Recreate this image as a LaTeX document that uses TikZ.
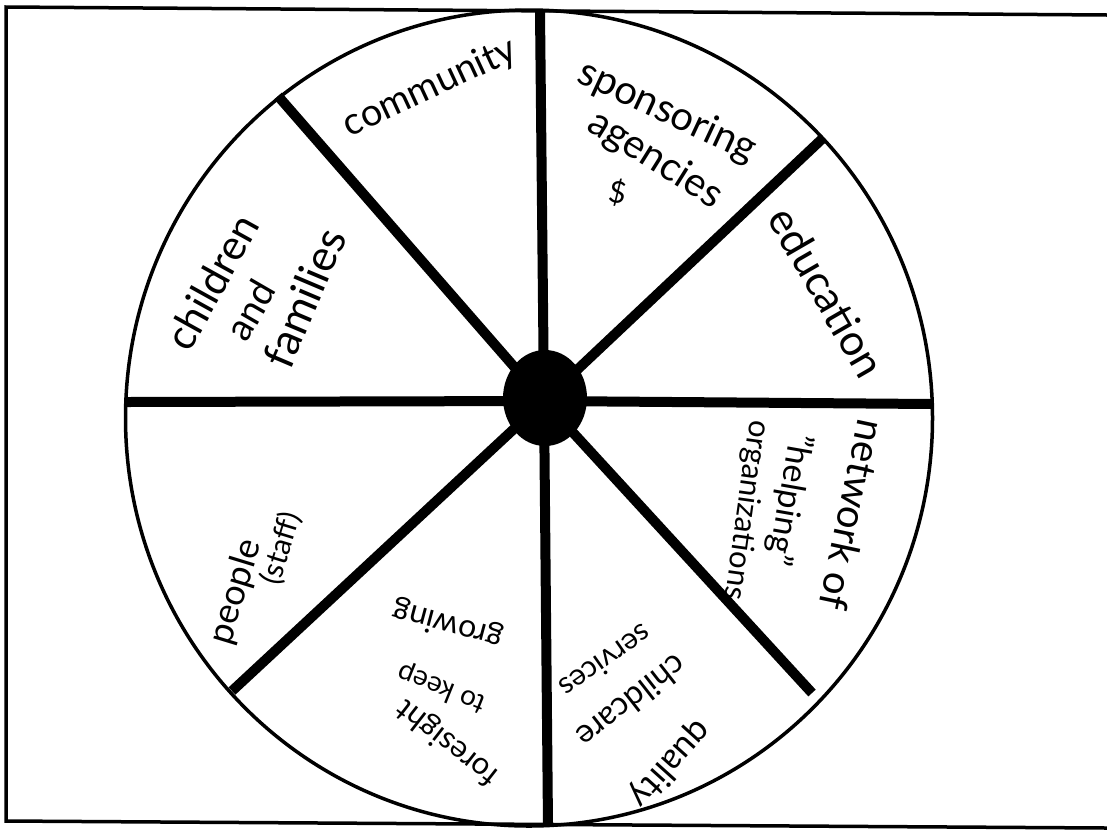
\documentclass[tikz,border=0pt]{standalone}
\usepackage{fontspec}
\setmainfont{Lato}
\begin{document}
\begin{tikzpicture}[x=1pt,y=-1pt,
  frame/.style={line width=3.5pt},
  rim/.style={line width=3.5pt},
  spoke/.style={line width=10pt},
  hw/.style={inner sep=0pt},
  fs/.style={font=\fontsize{#1}{#1}\selectfont}]
\useasboundingbox (0,0) rectangle (1107,831);
\fill[white] (0,0) rectangle (1107,831);
% frame
\coordinate (fTR) at (1107,15);
\coordinate (fTL) at (6,7);
\coordinate (fBL) at (6,821);
\coordinate (fBR) at (1107,828);
\draw[frame] (fTR) -- (fTL) -- (fBL) -- (fBR);
% rim
\coordinate (C) at (529,418);
\draw[rim] (C) ellipse [x radius=403.5, y radius=408];
% spokes
\coordinate (hub) at (544,401);
\coordinate (sT) at (540,12);
\coordinate (sTR) at (822,139);
\coordinate (sR) at (932,404);
\coordinate (sBR) at (812,693);
\coordinate (sB) at (548,826);
\coordinate (sBL) at (232,691);
\coordinate (sL) at (126,402);
\coordinate (sTL) at (278,96);
\foreach \s in {sT,sTR,sR,sBR,sB,sBL,sL,sTL}
  \draw[spoke] (hub) -- (\s);
\fill (545,398) ellipse [x radius=42, y radius=48];
% labels
\node[hw,fs=38,rotate=25] (community) at (430,88) {community};
\node[hw,fs=40,rotate=-25] (spons) at (667,112) {sponsoring};
\node[hw,fs=40,rotate=-32] (agenc) at (655,160) {agencies};
\node[hw,fs=30,rotate=-10] (dollar) at (618,193) {\$};
\node[hw,fs=43,rotate=-60] (educ) at (827,292) {education};
\node[hw,fs=42,rotate=61] (child) at (212,282) {children};
\node[hw,fs=38,rotate=60] (and) at (250,310) {and};
\node[hw,fs=44,rotate=67] (fam) at (304,298) {families};
\node[hw,fs=40,rotate=-102] (netw) at (853,515) {network of};
\node[hw,fs=34,rotate=-100] (help) at (789,500) {"helping"};
\node[hw,fs=31,rotate=-98] (org) at (746,510) {organizations};
\node[hw,fs=36,rotate=73] (people) at (236,592) {people};
\node[hw,fs=30,rotate=73] (staff) at (281,548) {(staff)};
\node[hw,fs=31,rotate=142] (fores) at (448,742) {foresight};
\node[hw,fs=28,rotate=158] (tokeep) at (442,688) {to keep};
\node[hw,fs=32,rotate=165] (grow) at (448,624) {growing};
\node[hw,fs=35,rotate=228] (qual) at (670,764) {quality};
\node[hw,fs=33,rotate=218] (childc) at (632,702) {childcare};
\node[hw,fs=30,rotate=215] (serv) at (606,662) {services};
\end{tikzpicture}
\end{document}
